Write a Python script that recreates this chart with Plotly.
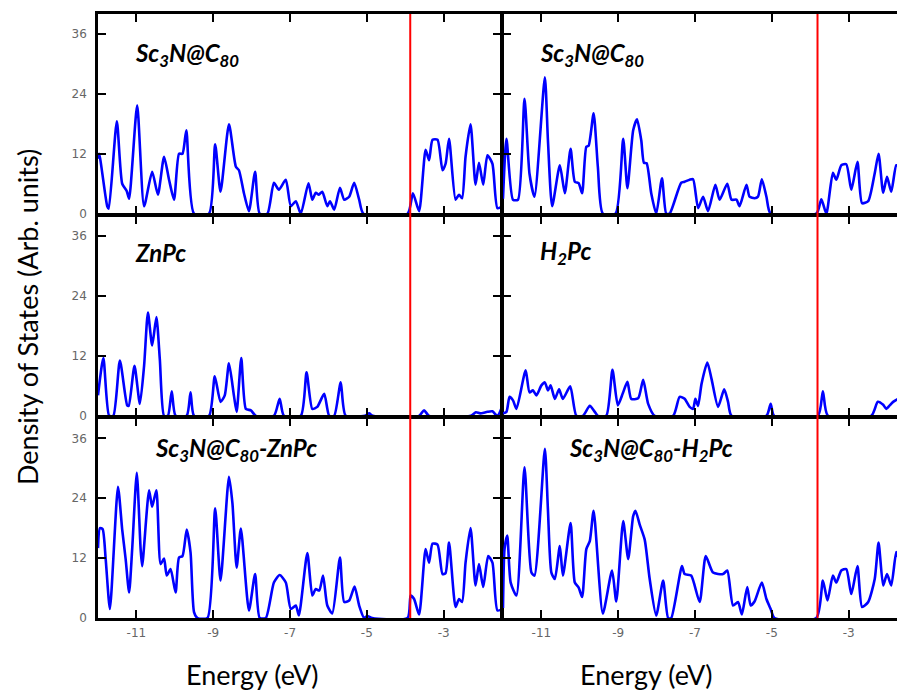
import plotly.graph_objects as go

# ---------------- data ----------------
xticks = [-11, -9, -7, -5, -3]
xtick_text = ["-11", "-9", "-7", "-5", "-3"]
yticks = [0, 12, 24, 36]
ytick_text = ["0", "12", "24", "36"]
fermi = [-3.87, -3.81]  # red line, left / right column

labels = [
    "Sc<sub>3</sub>N@C<sub>80</sub>", "Sc<sub>3</sub>N@C<sub>80</sub>",
    "ZnPc", "H<sub>2</sub>Pc",
    "Sc<sub>3</sub>N@C<sub>80</sub>-ZnPc", "Sc<sub>3</sub>N@C<sub>80</sub>-H<sub>2</sub>Pc",
]

e_a = [-12.0, -11.97, -11.76, -11.72, -11.51, -11.37, -11.25, -11.19, -10.98, -10.80, -10.59, -10.44,
       -10.28, -10.15, -10.02, -9.89, -9.80, -9.70, -9.50, -9.11, -8.95, -8.81, -8.59, -8.41, -8.33,
       -8.20, -8.07, -7.91, -7.79, -7.59, -7.42, -7.29, -7.11, -6.98, -6.85, -6.72, -6.52, -6.42,
       -6.33, -6.25, -6.16, -6.03, -5.96, -5.85, -5.70, -5.59, -5.46, -5.33, -5.20, -5.09, -3.94,
       -3.80, -3.64, -3.47, -3.38, -3.29, -3.16, -3.03, -2.95, -2.86, -2.69, -2.60, -2.52, -2.43,
       -2.30, -2.17, -2.08, -1.97, -1.86, -1.73, -1.60, -1.47]
d_a = [11, 12, 1.5, 1.0, 18.5, 6, 4.5, 3, 21.7, 1.5, 8.4, 3.8, 11.4, 6.8, 2.8, 12, 12, 16.7, 0, 0,
       13.9, 4.4, 17.9, 9.4, 8.7, 4.1, 0.5, 8.4, 0, 0, 6.2, 4.8, 6.8, 1.5, 2.5, 0, 6.1, 2.8, 4.2,
       3.8, 4.4, 1.5, 2.5, 0.8, 5.2, 2.8, 3.4, 6.2, 2.8, 0, 0, 4.1, 0.5, 12.8, 10.7, 14.8, 14.8,
       8.7, 10, 15, 2.8, 3.8, 3.1, 11.4, 17.9, 5.8, 10.2, 5.8, 11.7, 10, 1.1, 1.5]

e_b = [-12.0, -11.91, -11.74, -11.61, -11.44, -11.31, -11.18, -10.91, -10.83, -10.72, -10.52, -10.39,
       -10.24, -10.13, -10.03, -9.94, -9.83, -9.77, -9.64, -9.53, -9.40, -9.07, -8.87, -8.76, -8.61,
       -8.51, -8.40, -8.33, -8.26, -8.14, -8.01, -7.86, -7.75, -7.66, -7.36, -7.27, -7.14, -7.05,
       -6.92, -6.79, -6.66, -6.47, -6.36, -6.16, -6.05, -5.92, -5.84, -5.66, -5.58, -5.45, -5.36,
       -5.26, -5.14, -5.03, -3.84, -3.71, -3.58, -3.41, -3.32, -3.19, -3.06, -2.93, -2.77, -2.65,
       -2.49, -2.32, -2.22, -2.10, -2.00, -1.89, -1.76, -1.70]
d_b = [3, 15, 2.8, 2.8, 23, 8, 3.4, 27.3, 14.7, 1.5, 9.7, 4.1, 13, 6.4, 6.1, 4.1, 13.4, 13.6, 20.1,
       9.4, 0, 0, 15, 5.1, 16.7, 18.9, 14.7, 10.2, 10.1, 4.1, 0, 7.1, 0, 0, 6.2, 6.4, 6.8, 6.9, 1.1,
       3.4, 0.5, 5.8, 2.8, 6, 2.8, 2.8, 1.5, 5.8, 3.4, 3.1, 3.4, 6.9, 3.4, 0, 0, 2.9, 0, 8.2, 6.8,
       9.7, 9.9, 4.8, 10.4, 2.1, 2.5, 8.1, 12, 4.2, 7.4, 4.4, 9.7, 9.5]

e_c = [-12.0, -11.86, -11.71, -11.60, -11.43, -11.24, -11.20, -11.05, -10.91, -10.80, -10.70, -10.59,
       -10.48, -10.39, -10.28, -10.18, -10.08, -9.98, -9.69, -9.59, -9.50, -9.11, -8.96, -8.81,
       -8.70, -8.59, -8.46, -8.39, -8.27, -8.15, -8.02, -7.89, -7.42, -7.27, -7.16, -6.72, -6.57,
       -6.42, -6.29, -6.11, -5.98, -5.85, -5.68, -5.55, -5.05, -4.94, -4.85, -3.64, -3.51, -3.38,
       -2.29, -2.16, -2.05, -1.86, -1.73, -1.60, -1.47]
d_c = [4.1, 11.6, 0, 0, 11.1, 2.1, 2.0, 10, 2.4, 10, 20.7, 14.1, 19.8, 11.3, 0, 0, 4.9, 0, 0, 4.7,
       0, 0, 7.9, 2.8, 4.1, 10.5, 4, 0.8, 11.6, 1.4, 1.1, 0, 0, 3.4, 0, 0, 8.7, 1.4, 1.8, 4.4, 0,
       0, 6.7, 0, 0, 0.5, 0, 0, 1.1, 0, 0, 0.7, 0.5, 0.8, 0.9, 0, 2]

e_d = [-12.0, -11.91, -11.83, -11.74, -11.65, -11.41, -11.31, -11.22, -11.13, -11.0, -10.91, -10.83,
       -10.76, -10.65, -10.54, -10.44, -10.25, -10.09, -9.92, -9.74, -9.61, -9.53, -9.31, -9.15,
       -9.01, -8.88, -8.76, -8.66, -8.48, -8.35, -8.22, -8.05, -7.57, -7.40, -7.27, -7.14, -7.05,
       -6.99, -6.92, -6.83, -6.68, -6.57, -6.40, -6.24, -6.14, -6.05, -5.14, -5.03, -4.94, -3.80,
       -3.67, -3.54, -2.41, -2.24, -2.10, -2.02, -1.93, -1.84, -1.71]
d_d = [0.5, 0.8, 3.8, 3.1, 1.4, 9.1, 4.7, 5.1, 4.1, 6.1, 6.7, 5.1, 6.1, 3.4, 5.3, 3.4, 5.9, 0, 0, 2,
       0.8, 0, 0, 9.2, 2.1, 4.5, 6.8, 3.4, 3.5, 7.2, 2.4, 0, 0, 3.8, 3.4, 1.8, 1.4, 3.4, 2.0, 6.4,
       10.7, 7.4, 1.8, 5.3, 2.8, 0, 0, 2.4, 0, 0, 4.9, 0, 0, 2.8, 2.2, 1.4, 2.1, 2.8, 3.4]

e_e = [-12.0, -11.95, -11.88, -11.80, -11.69, -11.48, -11.37, -11.28, -11.19, -11.11, -10.99, -10.89,
       -10.85, -10.67, -10.59, -10.48, -10.37, -10.28, -10.21, -10.11, -9.98, -9.89, -9.80, -9.69,
       -9.59, -9.50, -9.41, -9.15, -8.95, -8.81, -8.59, -8.50, -8.39, -8.28, -8.07, -7.91, -7.79,
       -7.63, -7.42, -7.27, -7.11, -6.98, -6.85, -6.77, -6.55, -6.42, -6.33, -6.24, -6.14, -6.03,
       -5.90, -5.70, -5.59, -5.46, -5.32, -5.20, -5.07, -4.99, -4.86, -3.94, -3.86, -3.77, -3.64,
       -3.47, -3.38, -3.29, -3.16, -3.03, -2.95, -2.86, -2.69, -2.60, -2.52, -2.43, -2.30, -2.17,
       -2.08, -1.97, -1.84, -1.73, -1.60, -1.47]
d_e = [14, 18, 17.8, 11.8, 1.8, 26.3, 17.7, 11.8, 5.1, 13.8, 29.1, 13.8, 10.4, 25.6, 22.3, 25.6,
       10.8, 11.9, 8.5, 9.8, 5.1, 12.1, 12.4, 17.7, 13.1, 1.2, 0, 0, 22, 7.5, 28.3, 23, 10.1, 17.9,
       1.5, 8.8, 0, 0, 7.1, 8.6, 7.1, 1.8, 2.5, 0.5, 13, 4.5, 5.8, 5.5, 8.5, 2.5, 0.9, 12.1, 3.2,
       3.5, 6.3, 2.5, 0, 0.4, 0, 0, 4.5, 3.8, 0.7, 13.8, 11.1, 14.9, 14.7, 8.8, 9, 15.1, 2.2, 3.8,
       3.2, 11.1, 18, 6.5, 10.8, 6.2, 12.4, 11.1, 1.5, 1.8]

e_f = [-12.0, -11.96, -11.89, -11.80, -11.65, -11.44, -11.26, -11.18, -10.91, -10.83, -10.74, -10.65,
       -10.52, -10.44, -10.24, -10.13, -10.03, -9.94, -9.83, -9.74, -9.64, -9.40, -9.16, -9.05,
       -8.87, -8.74, -8.61, -8.55, -8.44, -8.31, -8.18, -8.01, -7.83, -7.70, -7.62, -7.34, -7.27,
       -7.10, -6.88, -6.72, -6.53, -6.27, -6.16, -6.01, -5.88, -5.78, -5.64, -5.55, -5.45, -5.26,
       -5.14, -5.03, -4.93, -3.84, -3.67, -3.55, -3.41, -3.32, -3.19, -3.06, -2.93, -2.77, -2.65,
       -2.49, -2.32, -2.22, -2.10, -2.00, -1.89, -1.76, -1.70]
d_f = [2, 13.8, 16.5, 7.1, 4.5, 30.2, 9.1, 8.5, 33.9, 21.7, 9.1, 7.8, 14.4, 8.5, 19, 7.1, 6.1, 4.2,
       13.8, 15.4, 21.5, 0.9, 9.5, 3.3, 19.4, 11.8, 20.4, 21.5, 18.7, 15.7, 7.8, 0.5, 7.5, 0, 0,
       10.4, 8.8, 8.5, 3.2, 12.4, 9.1, 8.8, 9.5, 2.5, 3.2, 0.7, 6.2, 2.5, 3.3, 7.1, 3.8, 1.8, 0, 0,
       7.5, 3.5, 8.5, 7.1, 9.5, 9.8, 4.8, 10.4, 2.2, 3.2, 7.8, 15.1, 6.5, 8.8, 6.5, 13.2, 12]

x_range_left = [-12, -1.52]
x_range_right = [-12, -1.74]
y_range = [0, 40]

# ---------------- figure ----------------
W, H = 897, 690
ML, MR, MT, MB = 98, 0, 14, 72
LW = 2.5                       # border width
pw, ph = W - ML - MR, H - MT - MB
gx, gy = LW / pw, LW / ph      # gaps so neighbouring border lines coincide
x_split = 402.5 / pw
xdoms = [[0, x_split], [x_split + gx, 1.0]]
rh = (1 - 2 * gy) / 3
ydoms = [[1 - rh, 1.0], [rh + gy, 1 - rh - gy], [0.0, rh]]

series = [(e_a, d_a), (e_b, d_b), (e_c, d_c), (e_d, d_d), (e_e, d_e), (e_f, d_f)]

fig = go.Figure()
layout = dict(
    width=W, height=H,
    margin=dict(l=ML, r=MR, t=MT, b=MB, pad=0),
    paper_bgcolor="white", plot_bgcolor="white",
    showlegend=False,
)
tickfont = dict(family="DejaVu Sans", size=12, color="#666666")

for i, (e, d) in enumerate(series):
    row, col = divmod(i, 2)
    n = "" if i == 0 else str(i + 1)
    fig.add_trace(go.Scatter(
        x=e, y=d, mode="lines", xaxis="x" + n, yaxis="y" + n,
        line=dict(color="#0000ff", width=2.6, shape="spline", smoothing=0.6),
        hoverinfo="skip"))
    layout["xaxis" + n] = dict(
        domain=xdoms[col], range=x_range_left if col == 0 else x_range_right,
        anchor="y" + n, showline=True, linecolor="black", linewidth=LW,
        mirror="ticks", ticks="inside", ticklen=8, tickwidth=2, tickcolor="black",
        tickvals=xticks, ticktext=xtick_text, showticklabels=(row == 2), tickfont=tickfont,
        ticklabelstandoff=2, showgrid=False, zeroline=False)
    layout["yaxis" + n] = dict(
        domain=ydoms[row], range=y_range, anchor="x" + n,
        showline=True, linecolor="black", linewidth=LW,
        mirror="ticks" if col == 0 else False,
        ticks="inside", ticklen=8, tickwidth=2, tickcolor="black",
        tickvals=yticks, ticktext=ytick_text, showticklabels=(col == 0), tickfont=tickfont,
        ticklabelstandoff=6, showgrid=False, zeroline=False)

fig.update_layout(**layout)

# Fermi level lines
for col, ef in enumerate(fermi):
    fig.add_shape(type="line", xref="x" if col == 0 else "x2", yref="paper",
                  x0=ef, x1=ef, y0=0, y1=1, line=dict(color="red", width=2), layer="above")

# panel labels
def px2paper(px, py):
    return (px - ML) / pw, (H - MB - py) / ph

label_px = [(133, 55), (538, 55), (133, 252), (538, 252), (153, 449), (567, 449)]
for (lx, ly), txt in zip(label_px, labels):
    ax, ay = px2paper(lx, ly)
    fig.add_annotation(text="<b><i>" + txt + "</i></b>", x=ax, y=ay, xref="paper", yref="paper",
                       xanchor="left", yanchor="middle", showarrow=False,
                       font=dict(family="Lato", size=24, color="black"))

# axis titles
for cx in [252, 646]:
    ax, ay = px2paper(cx, 674)
    fig.add_annotation(text="Energy (eV)", x=ax, y=ay, xref="paper", yref="paper",
                       xanchor="center", yanchor="middle", showarrow=False,
                       font=dict(family="Lato", size=27, color="black"))
ax, ay = px2paper(27, 317)
fig.add_annotation(text="Density of States (Arb. units)", x=ax, y=ay,
                   xref="paper", yref="paper", xanchor="center", yanchor="middle",
                   textangle=-90, showarrow=False,
                   font=dict(family="Lato", size=27, color="black"))

# remove the default page margin so the figure sits at the window's top-left corner
fig.write_html("out.html", config={"displayModeBar": False},
               post_script="document.body.style.margin='0';")
